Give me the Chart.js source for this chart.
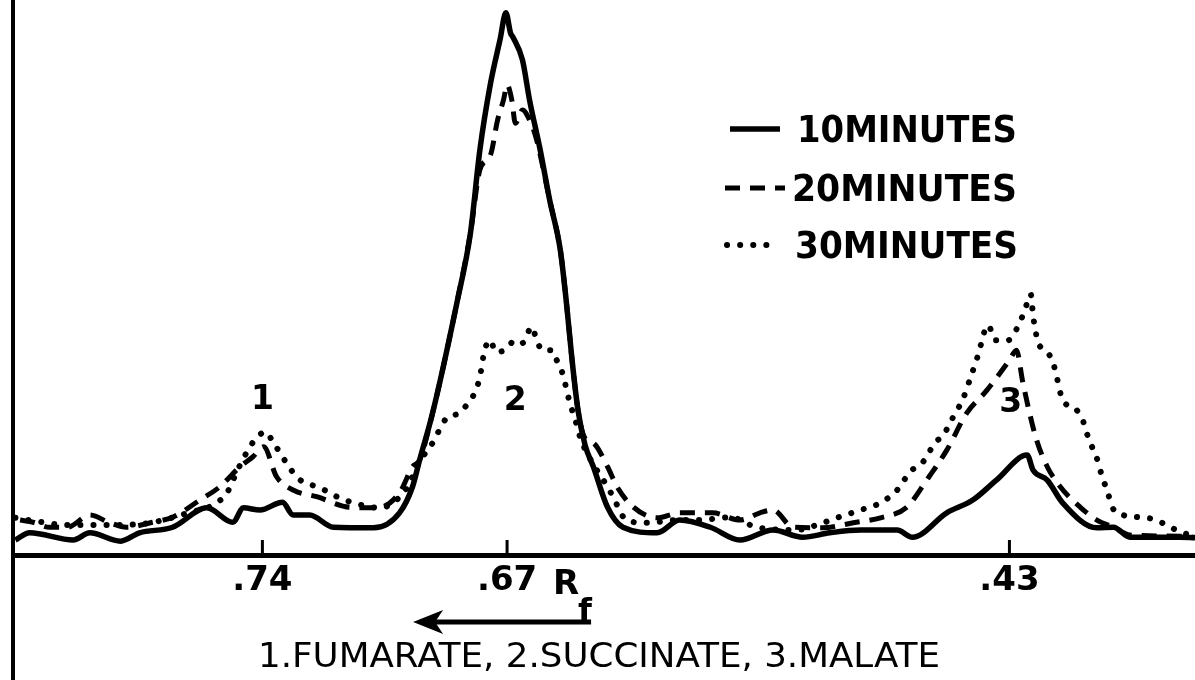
<!DOCTYPE html>
<html>
  <head>
    <meta charset="utf-8">
    <title>Rf scan of organic acids</title>
    <script src="https://cdn.jsdelivr.net/npm/chart.js"></script>
    <style>
      body { margin: 0; padding: 0; background: #fff; }
      #wrap { width: 1195px; height: 680px; position: relative; }
    </style>
  </head>
  <body>
    <div id="wrap"><canvas id="scan"></canvas></div>

    <script>
      // scan position along the strip (0-100) and detector reading (0-100)
      const pos10 = [0.2, 1.4, 5.1, 6.5, 9.1, 10.7, 13.5, 16.4, 18.6, 19.5, 20.9, 22.8, 23.7, 25.1, 27.1, 30.5, 32.7, 33.8, 34.4, 35.5, 37.6, 38.7, 39.5, 40.4, 41.2, 41.7, 42.1, 42.3, 43.1, 43.7, 44.6, 45.4, 46.3, 46.8, 47.3, 47.8, 48.4, 49.1, 50.3, 51.6, 54.5, 56.4, 59.0, 61.5, 64.3, 66.8, 69.1, 71.7, 74.8, 76.1, 79.0, 81.2, 83.2, 85.8, 86.3, 87.5, 88.8, 91.7, 93.1, 94.5, 98.7, 100];
      const val10 = [2.7, 4.0, 2.7, 4.0, 2.5, 4.0, 5.0, 8.5, 5.9, 8.5, 8.1, 9.5, 7.2, 7.2, 5.0, 4.9, 7.6, 12.3, 17.1, 25.6, 45.9, 58.0, 73.0, 85.0, 92.8, 97.7, 94.0, 93.3, 89.2, 82.0, 73.0, 64.0, 55.0, 45.9, 35.1, 26.1, 19.8, 15.9, 8.6, 5.0, 4.0, 6.3, 5.0, 2.7, 4.5, 3.2, 4.0, 4.5, 4.5, 3.2, 7.6, 9.9, 13.5, 18.0, 15.3, 13.5, 9.4, 4.9, 5.0, 3.2, 3.2, 3.1];

      const pos20 = [0.6, 1.7, 3.1, 4.6, 6.5, 8.2, 9.6, 11.8, 13.5, 15.8, 17.5, 19.2, 20.3, 21.2, 22.3, 23.7, 25.7, 28.5, 30.8, 32.7, 33.8, 34.4, 35.5, 37.6, 38.7, 39.5, 40.4, 41.0, 41.5, 41.8, 42.2, 42.5, 43.1, 43.7, 44.3, 45.4, 46.3, 46.8, 47.3, 47.8, 48.4, 49.1, 50.3, 51.1, 52.5, 54.5, 56.4, 59.2, 61.5, 63.2, 64.3, 66.0, 68.5, 71.1, 73.4, 75.6, 77.3, 79.0, 80.7, 82.4, 84.3, 84.9, 85.4, 86.0, 86.6, 87.5, 88.6, 90.3, 91.7, 93.1, 94.5, 98.7, 100];
      const val20 = [6.3, 5.9, 5.0, 5.0, 7.2, 5.8, 5.0, 5.9, 6.8, 9.9, 12.3, 15.9, 17.7, 19.5, 14.1, 11.7, 10.5, 8.6, 8.5, 11.2, 15.9, 17.1, 25.6, 45.9, 58.0, 69.4, 72.1, 78.4, 82.0, 84.7, 82.0, 77.8, 80.2, 78.4, 74.8, 64.0, 55.0, 45.9, 35.1, 26.1, 21.0, 20.2, 15.9, 12.3, 8.6, 6.7, 7.6, 7.6, 6.3, 7.6, 8.1, 5.0, 4.9, 5.8, 6.7, 8.6, 13.5, 18.9, 25.6, 29.7, 35.1, 36.9, 31.5, 25.6, 20.7, 15.9, 12.3, 8.6, 6.3, 5.0, 3.6, 3.4, 3.2];

      const pos30 = [0.2, 1.9, 4.6, 8.2, 11.6, 15.0, 16.9, 18.1, 19.0, 19.8, 20.6, 21.4, 21.9, 22.8, 23.4, 24.3, 26.0, 27.1, 28.8, 31.0, 33.2, 34.4, 35.5, 36.7, 37.8, 38.5, 39.1, 39.5, 39.9, 40.4, 40.8, 41.6, 42.5, 43.1, 43.9, 44.3, 44.8, 45.6, 46.0, 46.4, 46.7, 47.0, 47.3, 47.7, 48.0, 49.4, 50.3, 50.8, 51.9, 53.6, 56.4, 58.1, 60.7, 62.9, 66.3, 68.0, 69.7, 71.7, 73.4, 74.8, 75.9, 77.0, 78.0, 78.7, 79.5, 80.4, 81.0, 81.6, 82.5, 83.1, 84.2, 85.0, 85.6, 86.1, 86.3, 86.5, 86.7, 87.5, 88.0, 88.3, 88.8, 89.8, 90.5, 90.9, 91.4, 91.8, 92.1, 92.6, 93.0, 93.9, 95.3, 96.4, 97.6, 98.9, 100];
      const val30 = [6.7, 6.1, 5.4, 5.4, 5.8, 7.7, 9.0, 11.2, 15.3, 18.6, 21.1, 22.2, 20.7, 17.7, 15.7, 13.5, 12.1, 10.8, 9.4, 8.5, 11.7, 16.8, 20.2, 24.7, 25.6, 27.4, 29.4, 32.1, 36.9, 38.7, 36.6, 36.9, 38.7, 38.2, 41.1, 38.7, 36.9, 36.9, 35.1, 33.3, 31.0, 28.3, 26.1, 23.4, 21.1, 15.3, 12.3, 10.3, 6.3, 5.8, 6.3, 6.3, 6.8, 5.0, 4.5, 5.4, 6.7, 8.1, 9.4, 11.7, 15.0, 16.8, 20.2, 21.6, 24.7, 28.3, 31.9, 35.7, 41.4, 38.7, 38.7, 41.1, 44.1, 47.0, 43.2, 40.5, 38.4, 36.6, 34.6, 32.1, 27.9, 26.5, 24.3, 21.6, 18.9, 16.8, 14.4, 11.4, 8.6, 7.2, 6.8, 6.5, 5.4, 4.0, 3.6];

      // Rf marks on the base line
      const rfPositions = [21.1, 41.8, 84.3];
      const rfLabels = ['.74', '.67', '.43'];

      // peak numbers: position along the strip and height of the label
      const peakNames = ['1', '2', '3'];
      const peakPos = [21.1, 42.5, 84.4];
      const peakLevel = [27.9, 27.6, 27.3];

      const seriesLabels = ['10MINUTES', '20MINUTES', '30MINUTES'];

      const toPoints = (xs, ys) => xs.map((v, i) => ({ x: v, y: ys[i] }));

      const FONT = '"DejaVu Sans", sans-serif';

      // draws a string squeezed or stretched to a given width
      function fitText(ctx, text, x, y, width) {
        const w = ctx.measureText(text).width;
        ctx.save();
        ctx.translate(x, y);
        ctx.scale(width / w, 1);
        ctx.fillText(text, 0, 0);
        ctx.restore();
      }

      const annotate = {
        id: 'annotate',
        afterDraw(chart) {
          const { ctx, chartArea, scales: { x, y } } = chart;
          ctx.save();
          ctx.strokeStyle = '#000';
          ctx.fillStyle = '#000';
          ctx.lineCap = 'butt';

          // left frame line, full height
          ctx.lineWidth = 4;
          ctx.beginPath();
          ctx.moveTo(chartArea.left, 0);
          ctx.lineTo(chartArea.left, chart.height);
          ctx.stroke();

          // short ticks pointing up from the base line
          ctx.lineWidth = 3;
          ctx.beginPath();
          rfPositions.forEach(v => {
            const px = x.getPixelForValue(v);
            ctx.moveTo(px, chartArea.bottom);
            ctx.lineTo(px, chartArea.bottom - 15);
          });
          ctx.stroke();

          // peak numbers
          ctx.font = 'bold 33px ' + FONT;
          ctx.textAlign = 'center';
          ctx.textBaseline = 'middle';
          peakNames.forEach((t, i) => {
            ctx.fillText(t, x.getPixelForValue(peakPos[i]), y.getPixelForValue(peakLevel[i]));
          });

          // legend
          const rows = [
            { y: 129, x0: 730, x1: 780, tx: 797, tw: 220 },
            { y: 188, x0: 725, x1: 785, tx: 792, tw: 225 },
            { y: 245, x0: 727, x1: 770, tx: 795, tw: 223 }
          ];
          ctx.textAlign = 'left';
          ctx.textBaseline = 'alphabetic';
          ctx.font = 'bold 37px ' + FONT;
          chart.data.datasets.forEach((ds, i) => {
            const r = rows[i];
            ctx.save();
            ctx.lineWidth = ds.borderWidth;
            ctx.lineCap = ds.borderCapStyle || 'butt';
            ctx.setLineDash(ds.borderDash || []);
            ctx.beginPath();
            ctx.moveTo(r.x0, r.y);
            ctx.lineTo(r.x1, r.y);
            ctx.stroke();
            ctx.restore();
            fitText(ctx, ds.label, r.tx, r.y + 13, r.tw);
          });

          // Rf with the direction arrow
          const p67 = x.getPixelForValue(rfPositions[1]);
          ctx.font = 'bold 34px ' + FONT;
          ctx.fillText('R', p67 + 46, 594);
          ctx.font = 'bold 32px ' + FONT;
          ctx.fillText('f', p67 + 71, 621);

          ctx.lineWidth = 5;
          ctx.beginPath();
          ctx.moveTo(p67 + 84, 622);
          ctx.lineTo(p67 - 75, 622);
          ctx.stroke();
          ctx.beginPath();
          ctx.moveTo(p67 - 94, 622);
          ctx.lineTo(p67 - 64, 610);
          ctx.lineTo(p67 - 72, 622);
          ctx.lineTo(p67 - 64, 634);
          ctx.closePath();
          ctx.fill();

          // caption
          ctx.font = '34px ' + FONT;
          fitText(ctx, '1.FUMARATE, 2.SUCCINATE, 3.MALATE', 258, 667, 682);

          ctx.restore();
        }
      };

      new Chart(document.getElementById('scan'), {
        type: 'line',
        data: {
          datasets: [
            {
              label: seriesLabels[0],
              data: toPoints(pos10, val10),
              borderColor: '#000',
              borderWidth: 5.5,
              pointRadius: 0,
              cubicInterpolationMode: 'monotone'
            },
            {
              label: seriesLabels[1],
              data: toPoints(pos20, val20),
              borderColor: '#000',
              borderWidth: 5,
              borderDash: [15, 10],
              pointRadius: 0,
              cubicInterpolationMode: 'monotone'
            },
            {
              label: seriesLabels[2],
              data: toPoints(pos30, val30),
              borderColor: '#000',
              borderWidth: 6,
              borderDash: [0.1, 13],
              borderCapStyle: 'round',
              pointRadius: 0,
              cubicInterpolationMode: 'monotone'
            }
          ]
        },
        options: {
          responsive: true,
          maintainAspectRatio: false,
          animation: false,
          layout: { padding: { left: 13, top: 0, right: 0, bottom: 0 } },
          plugins: {
            legend: { display: false },
            tooltip: { enabled: false }
          },
          scales: {
            x: {
              type: 'linear',
              min: 0,
              max: 100,
              afterBuildTicks: s => { s.ticks = rfPositions.map(v => ({ value: v })); },
              afterFit: s => { s.height = 125; },
              grid: { display: false },
              border: { display: true, color: '#000', width: 5 },
              ticks: {
                autoSkip: false,
                maxRotation: 0,
                padding: -2,
                color: '#000',
                font: { family: FONT, size: 34, weight: 'bold' },
                callback: (v, i) => rfLabels[i]
              }
            },
            y: { display: false, min: 0, max: 100 }
          }
        },
        plugins: [annotate]
      });
    </script>
  </body>
</html>
